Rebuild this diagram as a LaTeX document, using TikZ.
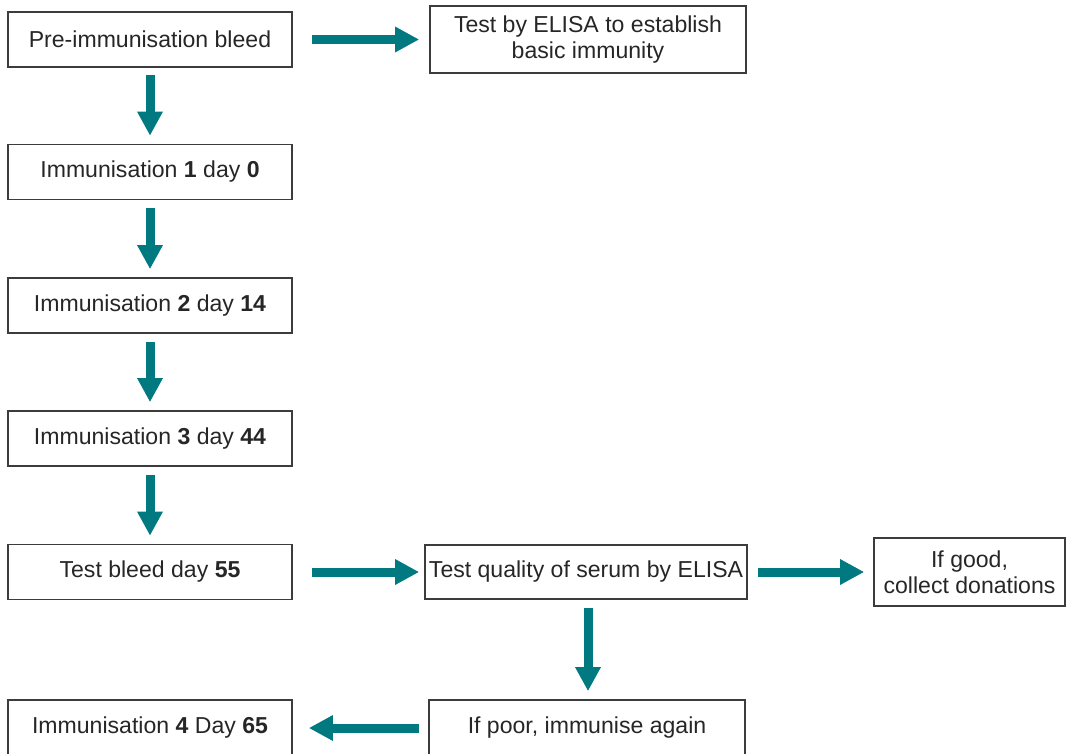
\documentclass[tikz,border=0pt]{standalone}
\usepackage{fontspec}
\setmainfont{Liberation Sans}
\usetikzlibrary{arrows.meta}
\definecolor{teal1}{RGB}{0,122,128}
\definecolor{boxline}{RGB}{60,60,60}
\tikzset{
  box/.style={draw=boxline, line width=1.25pt, inner sep=0pt, align=center,
    font=\fontsize{17.3}{19.5}\selectfont, text=black!85},
  arr/.style={draw=teal1, line width=6.75pt, -{Triangle[width=18pt,length=18pt]}}
}
\begin{document}
\begin{tikzpicture}[x=0.75pt,y=-0.75pt]
\useasboundingbox (0,0) rectangle (1066,753);
\node[box, minimum width=213pt, minimum height=41.25pt] (pre) at (150,39.5) {Pre-immunisation bleed};
\node[box, minimum width=237pt, minimum height=50.25pt] (elisa) at (588,39.5) {Test by ELISA to establish\\basic immunity};
\node[box, minimum width=213pt, minimum height=41.25pt] (im1) at (150,172) {Immunisation \textbf{1} day \textbf{0}};
\node[box, minimum width=213pt, minimum height=41.25pt] (im2) at (150,305.5) {Immunisation \textbf{2} day \textbf{14}};
\node[box, minimum width=213pt, minimum height=41.25pt] (im3) at (150,438.5) {Immunisation \textbf{3} day \textbf{44}};
\node[box, minimum width=213pt, minimum height=41.25pt] (tb) at (150,572) {Test bleed day \textbf{55}};
\node[box, minimum width=241.5pt, minimum height=40.5pt] (tq) at (586,572) {Test quality of serum by ELISA};
\node[box, minimum width=143.25pt, minimum height=51pt] (good) at (969.5,572) {If good,\\collect donations};
\node[box, minimum width=213pt, minimum height=42pt] (im4) at (150,728) {Immunisation \textbf{4} Day \textbf{65}};
\node[box, minimum width=237pt, minimum height=42pt] (poor) at (587,728) {If poor, immunise again};
\draw[arr, shorten <=14.25pt, shorten >=7.5pt] (pre.east) -- (elisa.west |- pre.east);
\draw[arr, shorten <=5.25pt, shorten >=6pt] (pre.south) -- (im1.north);
\draw[arr, shorten <=6pt, shorten >=6pt] (im1.south) -- (im2.north);
\draw[arr, shorten <=6pt, shorten >=6pt] (im2.south) -- (im3.north);
\draw[arr, shorten <=6pt, shorten >=6pt] (im3.south) -- (tb.north);
\draw[arr, shorten <=14.25pt, shorten >=3.75pt] (tb.east) -- (tq.west);
\draw[arr, shorten <=7.5pt, shorten >=6.75pt] (tq.east) -- (good.west);
\draw[arr, shorten <=6pt, shorten >=6pt] ([xshift=1.5pt]tq.south) -- ([xshift=1.5pt]tq.south |- poor.north);
\draw[arr, shorten <=6.75pt, shorten >=12pt] (poor.west) -- (im4.east);
\end{tikzpicture}
\end{document}
